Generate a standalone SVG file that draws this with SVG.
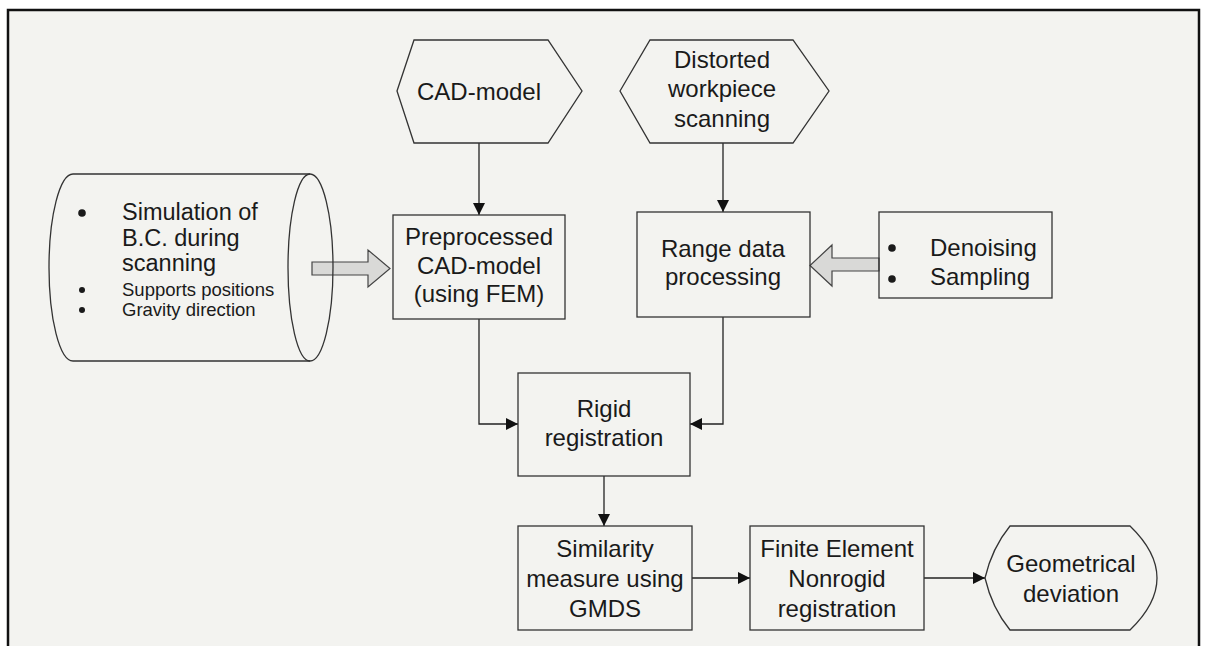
<svg xmlns="http://www.w3.org/2000/svg" width="1205" height="646" viewBox="0 0 1205 646">
  <style>
    .shape { fill: none; stroke: #333; stroke-width: 1.3; }
    .block { fill: #d9d9d7; stroke: #444; stroke-width: 1.2; }
    .wire { fill: none; stroke: #222; stroke-width: 1.3; }
    .lbl { font-family: "Liberation Sans", Arial, sans-serif; font-size: 24px; fill: #1a1a1a; }
    .c { text-anchor: middle; }
    .mid { font-size: 23.5px; }
    .small { font-size: 18.5px; }
    .dot { fill: #1a1a1a; }
  </style>
  <defs>
    <marker id="arrow" viewBox="0 0 12 12" refX="12" refY="6" markerWidth="12" markerHeight="12" markerUnits="userSpaceOnUse" orient="auto">
      <path d="M0,0 L12,6 L0,12 Z" fill="#111"/>
    </marker>
  </defs>

  <!-- page and frame -->
  <rect x="0" y="0" width="1205" height="646" fill="#ffffff"/>
  <rect x="8" y="10" width="1191" height="640" fill="#f3f3f0"/>
  <path d="M8,646 L8,10 L1199,10 L1199,646" fill="none" stroke="#111" stroke-width="2.5"/>

  <!-- connectors -->
  <g id="connectors">
    <line class="wire" x1="479" y1="143" x2="479" y2="215" marker-end="url(#arrow)"/>
    <line class="wire" x1="723" y1="143" x2="723" y2="212" marker-end="url(#arrow)"/>
    <polyline class="wire" points="479,319 479,424 518,424" marker-end="url(#arrow)"/>
    <polyline class="wire" points="723,317 723,424 690,424" marker-end="url(#arrow)"/>
    <line class="wire" x1="604" y1="476" x2="604" y2="526" marker-end="url(#arrow)"/>
    <line class="wire" x1="692" y1="578" x2="750" y2="578" marker-end="url(#arrow)"/>
    <line class="wire" x1="924" y1="578" x2="985" y2="578" marker-end="url(#arrow)"/>
    <polygon class="block" points="312,262 368,262 368,250 390,268.5 368,287 368,275 312,275"/>
    <polygon class="block" points="879,258 832,258 832,245 810,265.5 832,286 832,271 879,271"/>
  </g>

  <!-- boundary conditions (stored data) -->
  <g id="node-bc">
    <path class="shape" d="M73,174 L310,174 A23,93.5 0 0 1 310,361 L73,361 A24,93.5 0 0 1 73,174 Z"/>
    <path class="shape" d="M310,174 A22,93.5 0 0 0 310,361"/>
    <circle class="dot" cx="82" cy="213" r="3.8"/>
    <text class="lbl mid" x="122" y="220">Simulation of</text>
    <text class="lbl mid" x="122" y="245.5">B.C. during</text>
    <text class="lbl mid" x="122" y="271">scanning</text>
    <circle class="dot" cx="82" cy="290" r="3"/>
    <text class="lbl small" x="122" y="296">Supports positions</text>
    <circle class="dot" cx="82" cy="310" r="3"/>
    <text class="lbl small" x="122" y="316">Gravity direction</text>
  </g>

  <g id="node-cad">
    <polygon class="shape" points="397,91 414,40 548,40 582,91 548,143 414,143"/>
    <text class="lbl c" x="479" y="100">CAD-model</text>
  </g>

  <g id="node-scan">
    <polygon class="shape" points="620,91 650,40 793,40 829,91 793,143 650,143"/>
    <text class="lbl c" x="722" y="68">Distorted</text>
    <text class="lbl c" x="722" y="97">workpiece</text>
    <text class="lbl c" x="722" y="127">scanning</text>
  </g>

  <g id="node-preprocessed">
    <rect class="shape" x="393" y="215" width="172" height="104"/>
    <text class="lbl c" x="479" y="245">Preprocessed</text>
    <text class="lbl c" x="479" y="274">CAD-model</text>
    <text class="lbl c" x="479" y="302">(using FEM)</text>
  </g>

  <g id="node-range">
    <rect class="shape" x="637" y="212" width="173" height="105"/>
    <text class="lbl c" x="723" y="257">Range data</text>
    <text class="lbl c" x="723" y="285">processing</text>
  </g>

  <g id="node-filter">
    <rect class="shape" x="879" y="212" width="173" height="86"/>
    <circle class="dot" cx="892" cy="248" r="3.8"/>
    <text class="lbl" x="930" y="256">Denoising</text>
    <circle class="dot" cx="892" cy="279" r="3.8"/>
    <text class="lbl" x="930" y="285">Sampling</text>
  </g>

  <g id="node-rigid">
    <rect class="shape" x="518" y="373" width="172" height="103"/>
    <text class="lbl c" x="604" y="417">Rigid</text>
    <text class="lbl c" x="604" y="446">registration</text>
  </g>

  <g id="node-similarity">
    <rect class="shape" x="518" y="526" width="174" height="104"/>
    <text class="lbl c" x="605" y="557">Similarity</text>
    <text class="lbl c" x="605" y="587">measure using</text>
    <text class="lbl c" x="605" y="617">GMDS</text>
  </g>

  <g id="node-fe">
    <rect class="shape" x="750" y="526" width="174" height="104"/>
    <text class="lbl c" x="837" y="557">Finite Element</text>
    <text class="lbl c" x="837" y="587">Nonrogid</text>
    <text class="lbl c" x="837" y="617">registration</text>
  </g>

  <g id="node-deviation">
    <path class="shape" d="M1010,526 L1130,526 Q1184,578 1130,630 L1010,630 Q992,608 985,578 Q992,548 1010,526 Z"/>
    <text class="lbl c" x="1071" y="572">Geometrical</text>
    <text class="lbl c" x="1071" y="602">deviation</text>
  </g>
</svg>
